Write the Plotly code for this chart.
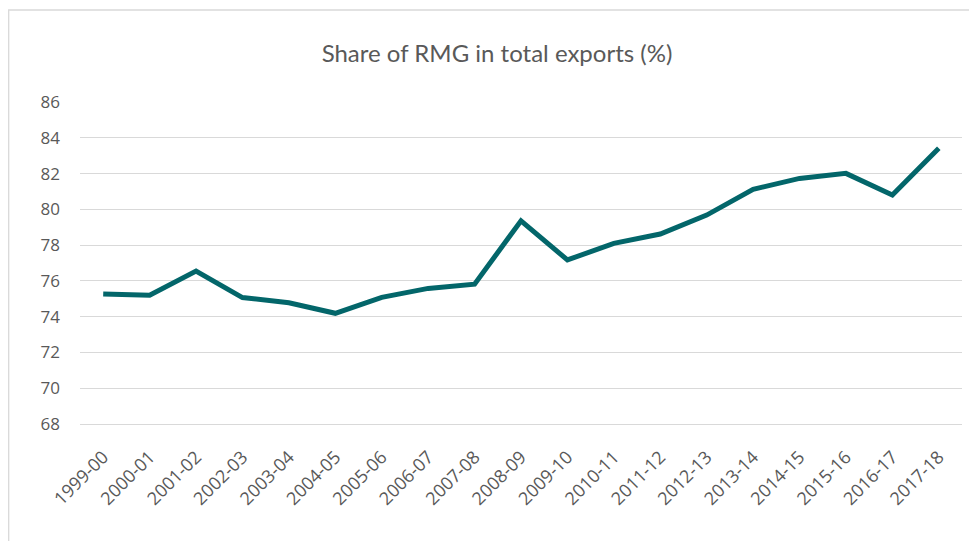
import plotly.graph_objects as go

years = ["1999-00", "2000-01", "2001-02", "2002-03", "2003-04", "2004-05", "2005-06",
         "2006-07", "2007-08", "2008-09", "2009-10", "2010-11", "2011-12", "2012-13",
         "2013-14", "2014-15", "2015-16", "2016-17", "2017-18"]
rmg_share = [75.27, 75.2, 76.55, 75.07, 74.78, 74.19, 75.08, 75.58, 75.82, 79.36,
             77.17, 78.1, 78.62, 79.68, 81.12, 81.73, 82.01, 80.8, 83.41]
y_ticks = [68, 70, 72, 74, 76, 78, 80, 82, 84, 86]

# page body has an 8px margin, so the figure is sized/offset to compensate
W, H = 969, 533
ml, mr, mt, mb = 72, 15, 94, 115

fig = go.Figure()
fig.add_trace(go.Scatter(
    x=years, y=rmg_share, mode="lines",
    line=dict(color="#03666A", width=5),
    hoverinfo="x+y", showlegend=False,
))

pw = W - ml - mr
ph = H - mt - mb
# outer border of the chart area (paper coords)
x0 = (0.7 - ml) / pw
x1 = (W + 20 - ml) / pw
y1 = (H - mb - 2) / ph
y0 = (H - mb - H - 20) / ph

fig.update_layout(
    width=W, height=H,
    margin=dict(l=ml, r=mr, t=mt, b=mb, autoexpand=False),
    paper_bgcolor="white", plot_bgcolor="white",
    title=dict(text="Share of RMG in total exports (%)", x=489 / W, xanchor="center",
               xref="container", y=1 - 46 / H, yanchor="middle", automargin=False,
               font=dict(family="Lato, Open Sans, sans-serif", size=24, color="#595959")),
    font=dict(family="Open Sans, Liberation Sans, sans-serif", color="#595959", size=17),
    xaxis=dict(type="category", tickangle=-45, showgrid=False, showline=False,
               zeroline=False, ticks="", automargin=False, ticklabelstandoff=16,
               tickfont=dict(size=18, color="#595959"),
               range=[-0.5, len(years) - 0.5]),
    yaxis=dict(range=[67.89, 86.0], tickvals=y_ticks, ticktext=[str(v) for v in y_ticks],
               showgrid=True, gridcolor="#D9D9D9", gridwidth=1.3, zeroline=False,
               showline=False, ticks="", ticklabelstandoff=19, automargin=False,
               tickfont=dict(size=17, color="#595959")),
    shapes=[dict(type="rect", xref="paper", yref="paper", x0=x0, x1=x1, y0=y0, y1=y1,
                 line=dict(color="#D9D9D9", width=1.3), fillcolor="rgba(0,0,0,0)",
                 layer="below")],
)

fig.write_html("out.html")
